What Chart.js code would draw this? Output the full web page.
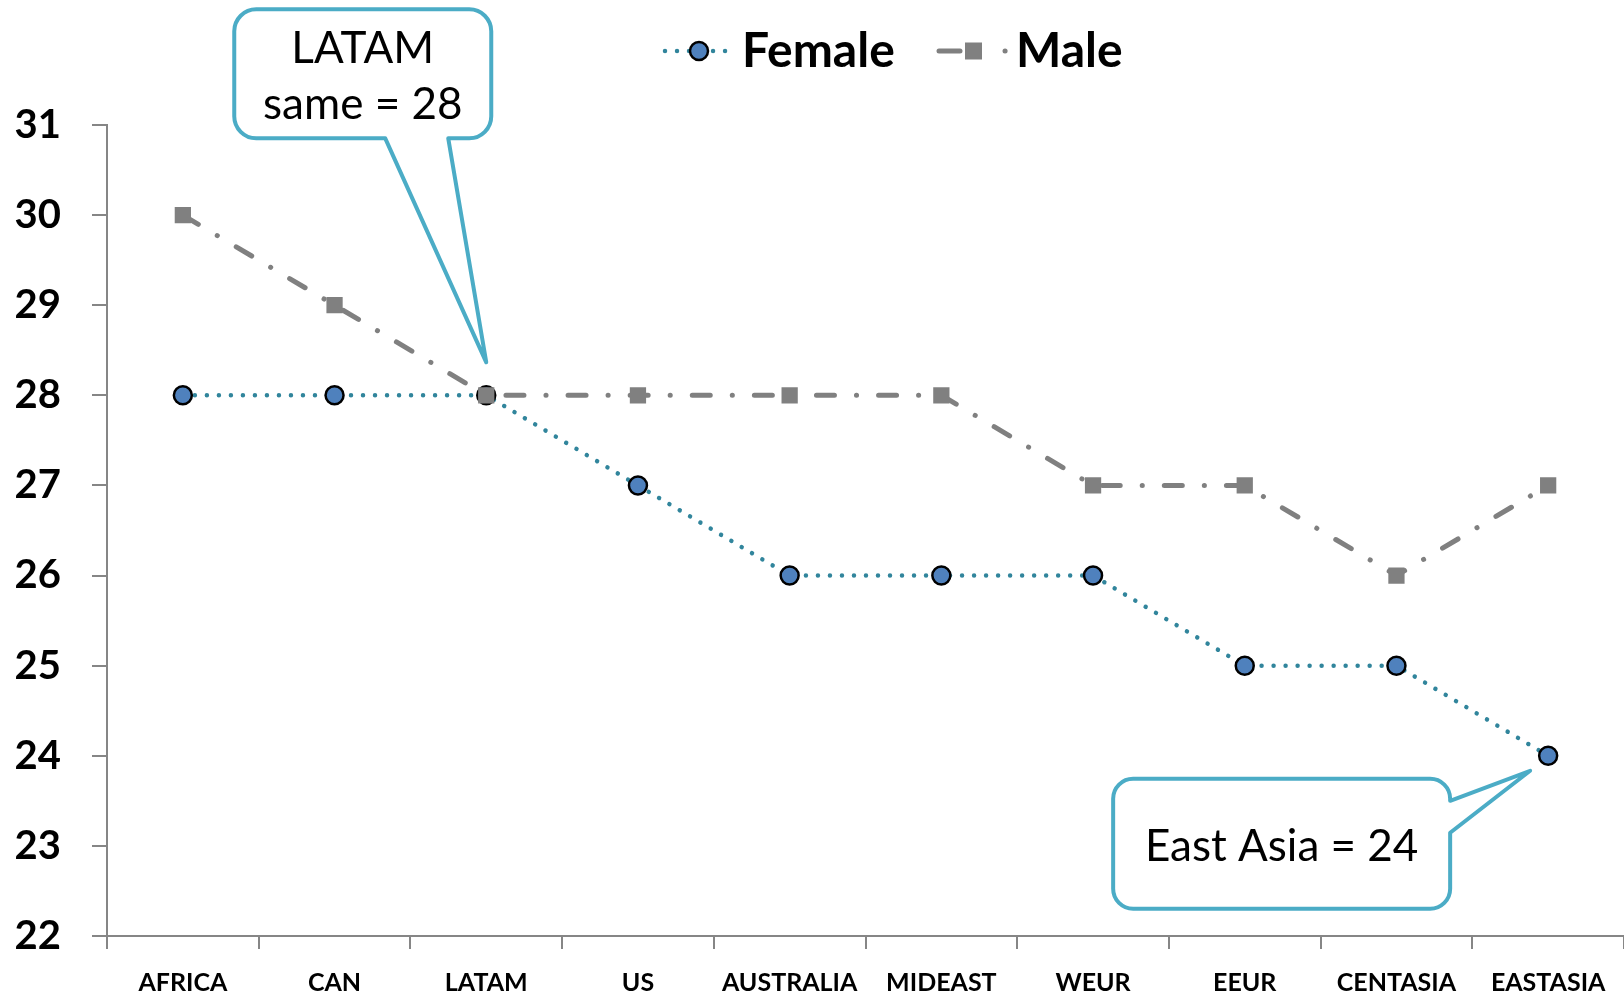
<!DOCTYPE html>
<html>
<head>
<meta charset="utf-8">
<title>Median age by region</title>
<script src="https://cdn.jsdelivr.net/npm/chart.js@4/dist/chart.umd.min.js"></script>
<style>
  html, body { margin: 0; padding: 0; background: #fff; overflow: hidden; }
  #wrap { width: 1624px; height: 997px; position: relative; }
  canvas { display: block; }
</style>
</head>
<body>
<div id="wrap"><canvas id="ageChart"></canvas></div>
<script>
// data
const regions = ['AFRICA', 'CAN', 'LATAM', 'US', 'AUSTRALIA', 'MIDEAST', 'WEUR', 'EEUR', 'CENTASIA', 'EASTASIA'];
const femaleAge = [28, 28, 28, 27, 26, 26, 26, 25, 25, 24];
const maleAge = [30, 29, 28, 28, 28, 28, 27, 27, 26, 27];
const yTicks = [22, 23, 24, 25, 26, 27, 28, 29, 30, 31];

const FONT = 'Lato, "Open Sans", sans-serif';
const axisGray = '#868686';
const calloutBlue = '#4BACC6';

// legend drawn by hand so it can show line + marker like the series
const legendPlugin = {
  id: 'lineLegend',
  afterDraw(chart) {
    const ctx = chart.ctx;
    const y = 51;
    ctx.save();

    // Female: dotted teal with blue circle
    ctx.strokeStyle = '#31859C';
    ctx.lineWidth = 4.5;
    ctx.lineCap = 'round';
    ctx.setLineDash([0.01, 12]);
    ctx.beginPath();
    ctx.moveTo(665, y);
    ctx.lineTo(728, y);
    ctx.stroke();
    ctx.setLineDash([]);
    ctx.beginPath();
    ctx.arc(699, y, 9, 0, Math.PI * 2);
    ctx.fillStyle = '#4F81BD';
    ctx.fill();
    ctx.lineWidth = 2.5;
    ctx.strokeStyle = '#000';
    ctx.stroke();

    // Male: dash-dot gray with square
    ctx.strokeStyle = '#808080';
    ctx.lineWidth = 5;
    ctx.lineCap = 'round';
    ctx.beginPath();
    ctx.moveTo(939, y);
    ctx.lineTo(960, y);
    ctx.stroke();
    ctx.beginPath();
    ctx.moveTo(1005, y);
    ctx.lineTo(1005.1, y);
    ctx.stroke();
    ctx.fillStyle = '#808080';
    ctx.fillRect(965, y - 8.5, 17, 17);

    ctx.fillStyle = '#000';
    ctx.font = 'bold 48px ' + FONT;
    ctx.textBaseline = 'alphabetic';
    ctx.textAlign = 'left';
    ctx.fillText('Female', 742, 67);
    ctx.fillText('Male', 1016, 67);
    ctx.restore();
  }
};

// rounded box with a pointed tail (tail on bottom or right edge)
function calloutPath(ctx, b, side, base1, base2, tip) {
  const r = b.rad;
  ctx.beginPath();
  ctx.moveTo(b.l + r, b.t);
  ctx.lineTo(b.r - r, b.t);
  ctx.arcTo(b.r, b.t, b.r, b.t + r, r);
  if (side === 'right') {
    ctx.lineTo(b.r, base1);
    ctx.lineTo(tip.x, tip.y);
    ctx.lineTo(b.r, base2);
  }
  ctx.lineTo(b.r, b.b - r);
  ctx.arcTo(b.r, b.b, b.r - r, b.b, r);
  if (side === 'bottom') {
    ctx.lineTo(base2, b.b);
    ctx.lineTo(tip.x, tip.y);
    ctx.lineTo(base1, b.b);
  }
  ctx.lineTo(b.l + r, b.b);
  ctx.arcTo(b.l, b.b, b.l, b.b - r, r);
  ctx.lineTo(b.l, b.t + r);
  ctx.arcTo(b.l, b.t, b.l + r, b.t, r);
  ctx.closePath();
}

const calloutPlugin = {
  id: 'callouts',
  afterDraw(chart) {
    const ctx = chart.ctx;
    const xs = chart.scales.x;
    const ys = chart.scales.y;
    ctx.save();
    ctx.lineWidth = 4;
    ctx.lineJoin = 'round';
    ctx.strokeStyle = calloutBlue;
    ctx.fillStyle = '#fff';
    ctx.font = '44px ' + FONT;
    ctx.textAlign = 'center';
    ctx.textBaseline = 'alphabetic';

    // LATAM: both series meet here
    let px = xs.getPixelForValue(2);
    let py = ys.getPixelForValue(femaleAge[2]);
    let box = { l: px - 252, r: px + 5, t: py - 386, b: py - 257, rad: 22 };
    calloutPath(ctx, box, 'bottom', px - 101, px - 38, { x: px, y: py - 33 });
    ctx.fill();
    ctx.stroke();
    ctx.fillStyle = '#000';
    ctx.fillText('LATAM', (box.l + box.r) / 2, py - 332);
    ctx.fillText('same = ' + femaleAge[2], (box.l + box.r) / 2, py - 276);

    // East Asia female
    px = xs.getPixelForValue(9);
    py = ys.getPixelForValue(femaleAge[9]);
    box = { l: px - 435, r: px - 98, t: py + 23, b: py + 153, rad: 20 };
    ctx.fillStyle = '#fff';
    calloutPath(ctx, box, 'right', py + 45, py + 77, { x: px - 18, y: py + 15 });
    ctx.fill();
    ctx.stroke();
    ctx.fillStyle = '#000';
    ctx.fillText('East Asia = ' + femaleAge[9], (box.l + box.r) / 2, py + 105);
    ctx.restore();
  }
};

const ageChart = new Chart(document.getElementById('ageChart'), {
  type: 'line',
  data: {
    labels: regions,
    datasets: [
      {
        label: 'Female',
        data: femaleAge,
        order: 1,
        borderColor: '#31859C',
        borderWidth: 4.5,
        borderDash: [0.01, 12],
        borderCapStyle: 'round',
        pointStyle: 'circle',
        pointRadius: 9,
        pointBorderWidth: 2.5,
        pointBorderColor: '#000',
        pointBackgroundColor: '#4F81BD',
        tension: 0,
        fill: false
      },
      {
        label: 'Male',
        data: maleAge,
        order: 0,
        borderColor: '#808080',
        borderWidth: 5,
        borderDash: [18, 22, 0.1, 22],
        borderCapStyle: 'round',
        pointStyle: 'rect',
        pointRadius: 11.5,
        pointBorderWidth: 0,
        pointBackgroundColor: '#808080',
        tension: 0,
        fill: false
      }
    ]
  },
  options: {
    responsive: true,
    maintainAspectRatio: false,
    animation: false,
    layout: {
      autoPadding: false,
      padding: { top: 125, right: 0, left: 0, bottom: 0 }
    },
    plugins: {
      legend: { display: false },
      tooltip: { enabled: false }
    },
    scales: {
      x: {
        offset: true,
        grid: {
          offset: true,
          drawOnChartArea: false,
          drawTicks: true,
          tickLength: 13,
          color: axisGray,
          lineWidth: 2
        },
        border: { display: true, color: axisGray, width: 2 },
        ticks: {
          color: '#000',
          font: { family: FONT, size: 25, weight: 'bold' },
          padding: 19,
          maxRotation: 0,
          autoSkip: false
        },
        // plot runs to the right edge of the canvas
        afterFit: s => { s.height = 61; s.paddingLeft = 0; s.paddingRight = 0; }
      },
      y: {
        min: yTicks[0],
        max: yTicks[yTicks.length - 1],
        afterBuildTicks: s => { s.ticks = yTicks.map(v => ({ value: v })); },
        grid: {
          drawOnChartArea: false,
          drawTicks: true,
          tickLength: 15,
          color: axisGray,
          lineWidth: 2
        },
        border: { display: true, color: axisGray, width: 2 },
        ticks: {
          color: '#000',
          font: { family: FONT, size: 40, weight: 'bold' },
          padding: 31
        },
        afterFit: s => { s.width = 107; }
      }
    }
  },
  plugins: [legendPlugin, calloutPlugin]
});
</script>
</body>
</html>
